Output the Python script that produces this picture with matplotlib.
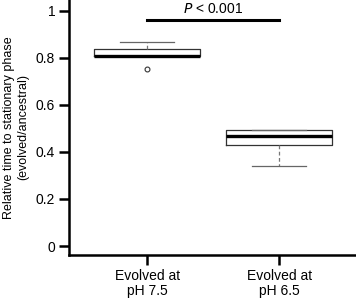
import matplotlib
matplotlib.use("Agg")
import matplotlib.pyplot as plt

plt.rcParams['font.family'] = ['Liberation Sans', 'DejaVu Sans']

# box statistics
groups = ["Evolved at\npH 7.5", "Evolved at\npH 6.5"]
whislo = [0.805, 0.338]
q1 = [0.805, 0.430]
med = [0.806, 0.468]
q3 = [0.835, 0.494]
whishi = [0.868, 0.494]
fliers = [[0.752], []]

yticks = [0, 0.2, 0.4, 0.6, 0.8, 1]
ytick_labels = ["0", "0.2", "0.4", "0.6", "0.8", "1"]
sig_y = 0.96
sig_text = "$\\it{P}$ < 0.001"

stats = []
for i, g in enumerate(groups):
    stats.append(dict(label=g, whislo=whislo[i], q1=q1[i], med=med[i],
                      q3=q3[i], whishi=whishi[i], fliers=fliers[i]))

fig = plt.figure(figsize=(3.56, 3.01), dpi=100)
ax = fig.add_axes([0.194, 0.153, 0.806, 0.847])

ax.bxp(stats, positions=[1, 2], widths=0.8, capwidths=0.41,
       boxprops=dict(color='#333333', linewidth=0.9),
       medianprops=dict(color='black', linewidth=2.4),
       whiskerprops=dict(color='#777777', linewidth=0.9, linestyle=(0, (3, 2))),
       capprops=dict(color='#666666', linewidth=0.9),
       flierprops=dict(marker='o', markersize=3.5, markerfacecolor='white',
                       markeredgecolor='#333333', markeredgewidth=0.8))

# significance bar
ax.plot([1, 2], [sig_y, sig_y], color='black', linewidth=2.2)
ax.text(1.5, sig_y + 0.017, sig_text, ha='center', va='bottom', fontsize=10)

ax.set_xlim(0.41, 2.58)
ax.set_ylim(-0.038, 1.045)
ax.set_yticks(yticks)
ax.set_yticklabels(ytick_labels, fontsize=10)
ax.set_xticks([1, 2])
ax.set_xticklabels(groups, fontsize=10, linespacing=1.15)
ax.set_ylabel("Relative time to stationary phase\n(evolved/ancestral)",
              fontsize=9, labelpad=5)

for s in ['top', 'right']:
    ax.spines[s].set_visible(False)
for s in ['left', 'bottom']:
    ax.spines[s].set_linewidth(1.8)
ax.tick_params(axis='y', width=1.8, length=7, pad=3)
ax.tick_params(axis='x', width=1.8, length=7, pad=3)

fig.savefig("out.png", dpi=100)
